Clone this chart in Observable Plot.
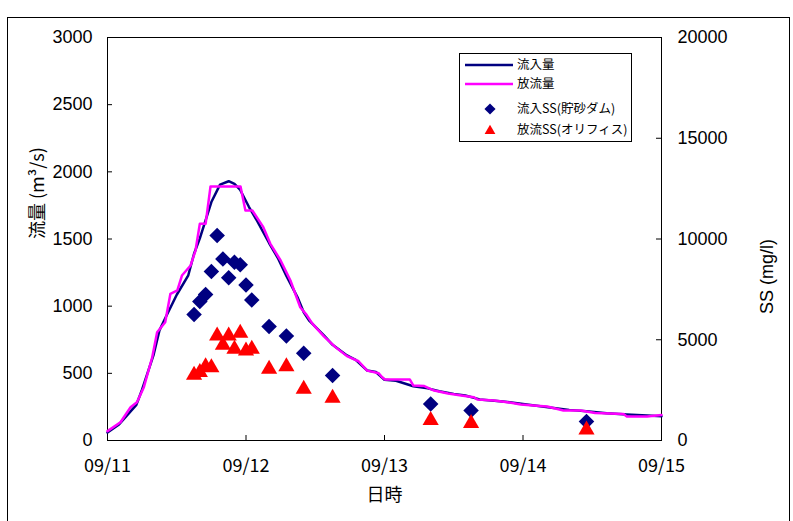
<!DOCTYPE html>
<html>
<head>
<meta charset="utf-8">
<script src="https://cdn.jsdelivr.net/npm/d3@7"></script>
<script src="https://cdn.jsdelivr.net/npm/@observablehq/plot@0.6"></script>
<style>
  body { margin: 0; background: white; }
  #wrap { position: relative; width: 793px; height: 521px; overflow: hidden; background: white; }
  #border { position: absolute; left: 7px; top: 17px; width: 781px; height: 560px; border: 1px solid black; pointer-events: none; }
  #legend { position: absolute; left: 459px; top: 53px; }
</style>
</head>
<body>
<div id="wrap">
  <div id="chart"></div>
  <div id="border"></div>
  <div id="legend"></div>
</div>
<script>
// Hours elapsed since 09/11 00:00
const inflowHours = [0, 2, 5, 6, 8, 9, 10, 12, 14, 15, 16, 18, 19.5, 21, 22, 23, 24.5, 26, 28, 29.5, 31, 33, 34, 35, 37.5, 39, 41.5, 43, 45, 46.5, 48, 50, 53, 55.5, 57.5, 60, 62, 64.5, 68, 71, 74, 77, 80, 83, 86.5, 90, 93.5, 96];
// 流入量 (m3/s)
const inflow = [60, 120, 265, 380, 640, 820, 910, 1085, 1230, 1390, 1505, 1775, 1905, 1930, 1910, 1865, 1740, 1630, 1470, 1360, 1225, 1060, 955, 890, 782, 712, 633, 600, 521, 510, 452, 445, 404, 388, 366, 347, 335, 306, 293, 278, 260, 243, 228, 218, 203, 194, 186, 181];

const outflowHours = [0, 2.25, 4, 5.1, 6.3, 7.75, 8.6, 10, 10.9, 12.1, 12.9, 14.4, 15.25, 16, 17, 17.85, 23.05, 23.9, 25.1, 27, 28.2, 30, 31.7, 33.4, 34.5, 35.5, 37.5, 39.5, 41.5, 43.5, 45, 47, 47.6, 48.1, 52.4, 53, 54.9, 56.6, 59, 61.3, 63.5, 64.1, 67, 69.3, 71.6, 73.8, 76.2, 79, 82, 84.5, 89.4, 90, 93.5, 96];
// 放流量 (m3/s)
const outflow = [70, 136, 248, 285, 397, 620, 806, 880, 1092, 1117, 1228, 1303, 1414, 1613, 1613, 1891, 1891, 1712, 1712, 1588, 1466, 1340, 1191, 992, 935, 870, 775, 695, 628, 590, 520, 500, 471, 454, 454, 409, 405, 372, 350, 335, 322, 305, 298, 285, 268, 260, 253, 223, 223, 205, 198, 179, 179, 190];

// SS samples (mg/l)
const ssHours = [15, 16, 17, 18, 19, 20, 21, 22, 23, 24, 25, 28, 31, 34, 39, 56, 63, 83];
const inflowSS = [6250, 6900, 7250, 8390, 10170, 9010, 8080, 8850, 8720, 7720, 6970, 5660, 5190, 4330, 3230, 1810, 1490, 940];
const outflowSS = [3250, 3380, 3670, 3620, 5200, 4740, 5200, 4540, 5330, 4450, 4540, 3540, 3670, 2550, 2100, 1000, 850, 530];

const dayTicks = [0, 24, 48, 72, 96];
const dayLabels = ["09/11", "09/12", "09/13", "09/14", "09/15"];
const flowTicks = [0, 500, 1000, 1500, 2000, 2500, 3000];
const ssTicks = [0, 5000, 10000, 15000, 20000];

const flowMax = 3000, ssMax = 20000;
const ssToFlow = v => v * flowMax / ssMax;

const seriesNames = ["流入量", "放流量", "流入SS(貯砂ダム)", "放流SS(オリフィス)"];
const colors = { inflow: "#000080", outflow: "#ff00ff", ssIn: "#000080", ssOut: "#ff0000" };

const inflowRows = inflowHours.map((h, i) => ({ hour: h, flow: inflow[i] }));
const outflowRows = outflowHours.map((h, i) => ({ hour: h, flow: outflow[i] }));
const ssInRows = ssHours.map((h, i) => ({ hour: h, ss: inflowSS[i] }));
const ssOutRows = ssHours.map((h, i) => ({ hour: h, ss: outflowSS[i] }));

const W = 793, H = 521;
const mL = 107, mR = 132, mT = 37, mB = 81;
const plotW = W - mL - mR, plotH = H - mT - mB;
const tickLen = 5;
const jp = "'Noto Sans CJK JP', sans-serif";
const latin = "'Liberation Sans', Arial, sans-serif";

const chart = Plot.plot({
  width: W,
  height: H,
  marginLeft: mL,
  marginRight: mR,
  marginTop: mT,
  marginBottom: mB,
  x: { domain: [0, 96] },
  y: { domain: [0, flowMax] },
  style: { fontFamily: latin, fontSize: "18px", color: "black", background: "white", overflow: "visible" },
  marks: [
    Plot.frame({ stroke: "black", strokeWidth: 1 }),
    // inward tick marks
    Plot.tickY(flowTicks.slice(1, -1), { y: d => d, insetRight: plotW - tickLen, stroke: "black" }),
    Plot.tickY(ssTicks.slice(1, -1).map(ssToFlow), { y: d => d, insetLeft: plotW - tickLen, stroke: "black" }),
    Plot.tickX(dayTicks.slice(1, -1), { x: d => d, insetTop: plotH - tickLen, stroke: "black" }),
    // tick labels
    Plot.axisY({ anchor: "left", ticks: flowTicks, tickSize: 0, tickPadding: 15, label: null,
      tickFormat: d => String(d), fontSize: 18, fontFamily: latin, fill: "black" }),
    Plot.axisY({ anchor: "right", ticks: ssTicks.map(ssToFlow), tickSize: 0, tickPadding: 16, label: null,
      tickFormat: d => String(Math.round(d * ssMax / flowMax)), fontSize: 18, fontFamily: latin, fill: "black" }),
    Plot.axisX({ ticks: dayTicks, tickSize: 0, tickPadding: 19, label: null,
      tickFormat: d => dayLabels[dayTicks.indexOf(d)], fontSize: 18, fontFamily: jp, fill: "black" }),
    // axis titles
    Plot.text(["流量 (m³/s)"], { text: d => d, frameAnchor: "left", dx: -69, rotate: -90, fontSize: 18, fontFamily: jp, fill: "black" }),
    Plot.text(["SS (mg/l)"], { text: d => d, frameAnchor: "right", dx: 106, rotate: -90, fontSize: 18, fontFamily: latin, fill: "black" }),
    Plot.text(["日時"], { text: d => d, frameAnchor: "bottom", dy: 60, fontSize: 18, fontFamily: jp, fill: "black" }),
    // discharge series
    Plot.line(inflowRows, { x: "hour", y: "flow", stroke: colors.inflow, strokeWidth: 2.5 }),
    Plot.line(outflowRows, { x: "hour", y: "flow", stroke: colors.outflow, strokeWidth: 2.5 }),
    // SS samples on the secondary scale
    Plot.dot(ssInRows, { x: "hour", y: d => ssToFlow(d.ss), symbol: "diamond2", r: 7, fill: colors.ssIn, stroke: "none" }),
    Plot.dot(ssOutRows, { x: "hour", y: d => ssToFlow(d.ss), symbol: "triangle", r: 6, fill: colors.ssOut, stroke: "none" })
  ]
});
document.getElementById("chart").appendChild(chart);

// legend box
const lg = d3.select("#legend").append("svg").attr("width", 174).attr("height", 90)
  .style("font-family", jp).style("font-size", "12.5px");
lg.append("rect").attr("x", 0.5).attr("y", 0.5).attr("width", 172).attr("height", 88)
  .attr("fill", "white").attr("stroke", "black");
const rowsY = [12, 31, 56, 77];
const sx0 = 6, sx1 = 54, mx = 31, tx = 58;
lg.append("line").attr("x1", sx0).attr("x2", sx1).attr("y1", rowsY[0]).attr("y2", rowsY[0])
  .attr("stroke", colors.inflow).attr("stroke-width", 2.5);
lg.append("line").attr("x1", sx0).attr("x2", sx1).attr("y1", rowsY[1]).attr("y2", rowsY[1])
  .attr("stroke", colors.outflow).attr("stroke-width", 2.5);
lg.append("path").attr("d", d3.symbol(d3.symbolDiamond2, Math.PI * 5 * 5)())
  .attr("transform", `translate(${mx},${rowsY[2]})`).attr("fill", colors.ssIn);
lg.append("path").attr("d", d3.symbol(d3.symbolTriangle, Math.PI * 4 * 4)())
  .attr("transform", `translate(${mx},${rowsY[3] + 1})`).attr("fill", colors.ssOut);
seriesNames.forEach((name, i) => {
  lg.append("text").attr("x", tx).attr("y", rowsY[i]).attr("dy", "0.35em").text(name);
});
</script>
</body>
</html>
